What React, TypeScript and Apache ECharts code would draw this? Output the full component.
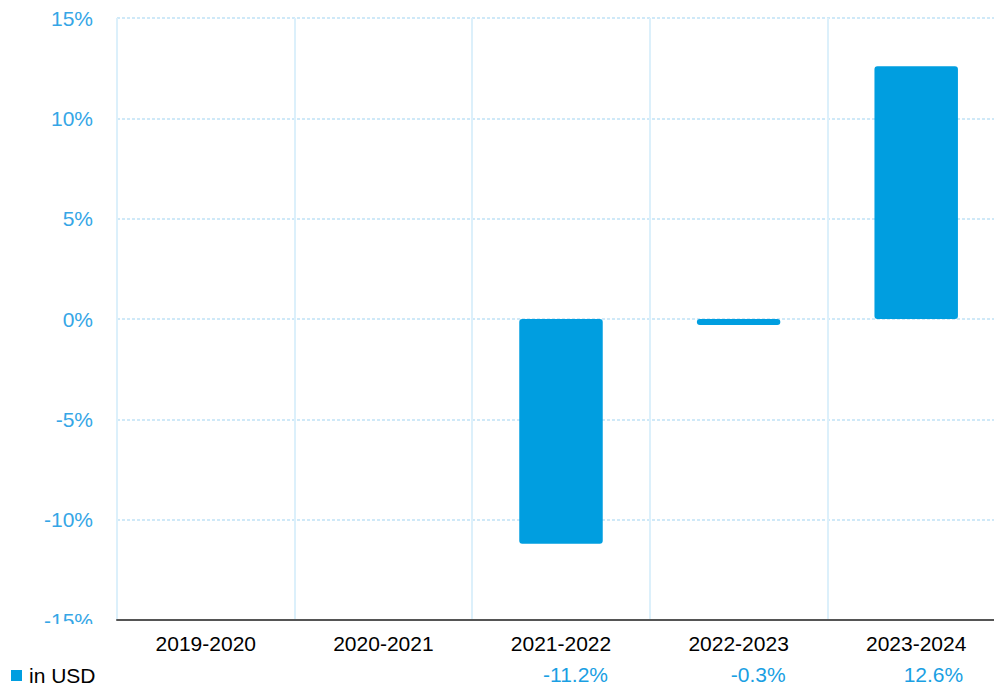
import React, { useEffect, useRef } from "react";
import * as echarts from "echarts";

const categories = ["2019-2020", "2020-2021", "2021-2022", "2022-2023", "2023-2024"];
const valuesUSD: (number | null)[] = [null, null, -11.2, -0.3, 12.6];
const valueLabels = ["", "", "-11.2%", "-0.3%", "12.6%"];
const seriesName = "in USD";
const yMin = -15;
const yMax = 15;
const yInterval = 5;

const FONT = "'Liberation Sans', Arial, sans-serif";
const BLUE = "#009ee0";

export default function App() {
  const ref = useRef<HTMLDivElement>(null);
  useEffect(() => {
    if (!ref.current) return;
    const chart = echarts.init(ref.current, undefined, { renderer: "svg" });
    chart.setOption({
      animation: false,
      textStyle: { fontFamily: FONT },
      grid: {
        left: 117,
        top: 18,
        right: -11,
        bottom: 66,
        containLabel: false,
        outerBoundsMode: "none",
      },
      legend: {
        data: [{ name: seriesName, icon: "rect" }],
        left: 11,
        top: 665,
        padding: 0,
        itemWidth: 11,
        itemHeight: 11,
        itemGap: 6,
        textStyle: { color: "#000", fontSize: 21, lineHeight: 21, fontFamily: FONT, padding: [0, 0, 0, 2] },
      },
      xAxis: [
        {
          type: "category",
          data: categories,
          position: "bottom",
          axisLine: { show: true, onZero: false, lineStyle: { color: "#555", width: 2 } },
          axisTick: { show: false },
          axisLabel: { color: "#000", fontSize: 21, margin: 13, fontFamily: FONT, interval: 0 },
          splitLine: { show: true, interval: 0, lineStyle: { color: "#dcf0fb", width: 2, type: "solid" } },
        },
        {
          type: "category",
          data: valueLabels,
          position: "bottom",
          axisLine: { show: false, onZero: false },
          axisTick: { show: false },
          splitLine: { show: false },
          axisLabel: {
            color: "#1a9fe3",
            fontSize: 21,
            margin: 44,
            fontFamily: FONT,
            interval: 0,
            align: "right",
            padding: [0, -47, 0, 0],
          },
        },
      ],
      yAxis: {
        type: "value",
        min: yMin,
        max: yMax,
        interval: yInterval,
        axisLine: { show: false },
        axisTick: { show: false },
        axisLabel: { formatter: "{value}%", color: "#35a6e6", fontSize: 21, margin: 24, fontFamily: FONT },
        splitLine: { show: true, lineStyle: { color: "#cfe9f8", width: 2, type: [3, 2] } },
      },
      series: [
        {
          name: seriesName,
          type: "bar",
          data: valuesUSD,
          xAxisIndex: 0,
          barWidth: "47%",
          itemStyle: { color: BLUE, borderRadius: 3 },
        },
      ],
      graphic: [
        {
          type: "rect",
          z: 100,
          shape: { x: 0, y: 624, width: 110, height: 14 },
          style: { fill: "#fff" },
        },
      ],
    });
    return () => chart.dispose();
  }, []);
  return (
    <div
      ref={ref}
      style={{ position: "absolute", left: 0, top: 0, width: 994, height: 686 }}
    />
  );
}
